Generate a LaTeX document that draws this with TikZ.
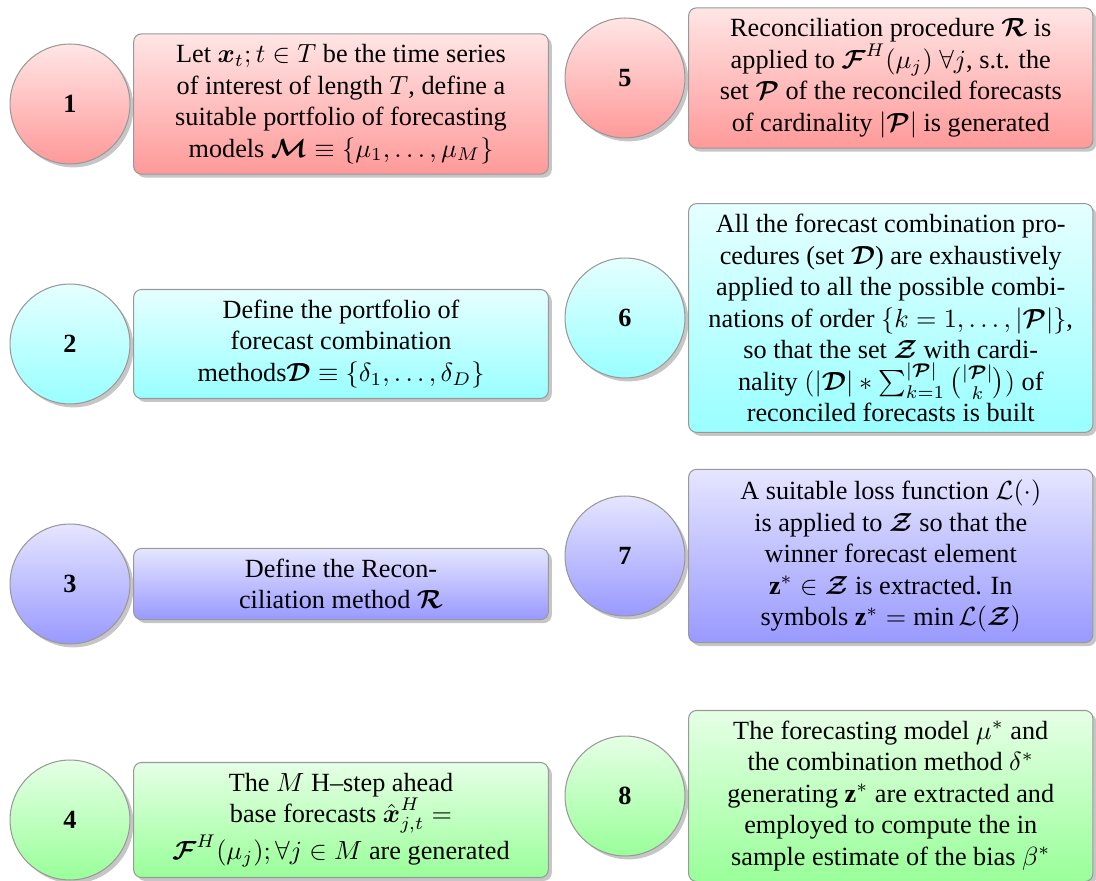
\documentclass[tikz,border=0pt]{standalone}
\usepackage{amsmath}
\usepackage{fontspec}
\setmainfont{Liberation Serif}
\usetikzlibrary{positioning, shadows}
\tikzset{x=0.381pt, y=0.381pt, % one unit is one pixel of the layout
numcirc/.style={ % numbered circle of each step
circle, draw=gray!80, thin,
minimum size=45.7pt, inner sep=0pt,
font=\bfseries,
top color=#1!10, bottom color=#1!40,
drop shadow={opacity=0.45, shadow xshift=1.3pt, shadow yshift=-1.3pt}},
descbox/.style={ % description box beside the circle
rectangle, rounded corners=3pt, draw=gray!80, thin,
text width=150pt, align=flush center,
inner xsep=4pt, inner ysep=4pt,
top color=#1!10, bottom color=#1!40,
drop shadow={opacity=0.45, shadow xshift=1.3pt, shadow yshift=-1.3pt}}}

\begin{document}
\begin{tikzpicture}

    \useasboundingbox (0,0) rectangle (1096,-881);

    % left column
    \node[numcirc=red] (c1) at (70,-104) {1};
    \node[numcirc=cyan] (c2) at (70,-344) {2};
    \node[numcirc=blue] (c3) at (70,-584) {3};
    \node[numcirc=green] (c4) at (70,-820) {4};

    \node[descbox=red, right=1pt of c1] (d1) {Let $\boldsymbol{x}_t; t \in T$ be the time series\\ of interest of length $T$, define a\\ suitable portfolio of forecasting\\ models $\boldsymbol{\mathcal{M}} \equiv \{\mu_1,\ldots,\mu_M\}$};
    \node[descbox=cyan, right=1pt of c2] (d2) {Define the portfolio of\\ forecast combination\\ methods$\boldsymbol{\mathcal{D}} \equiv \{\delta_1,\ldots,\delta_D\}$};
    \node[descbox=blue, right=1pt of c3] (d3) {Define the Recon-\\ ciliation method $\boldsymbol{\mathcal{R}}$};
    \node[descbox=green, right=1pt of c4] (d4) {The $M$ H--step ahead\\ base forecasts $\hat{\boldsymbol{x}}^H_{j,t} =$\\ $\boldsymbol{\mathcal{F}}^H(\mu_j); \forall j \in M$ are generated};

    % right column
    \node[numcirc=red] (c5) at (625,-78) {5};
    \node[numcirc=cyan] (c6) at (625,-318) {6};
    \node[numcirc=blue] (c7) at (625,-556) {7};
    \node[numcirc=green] (c8) at (625,-796) {8};

    \node[descbox=red, text width=146pt, right=1pt of c5] (d5) {Reconciliation procedure $\boldsymbol{\mathcal{R}}$ is\\ applied to $\boldsymbol{\mathcal{F}}^H(\mu_j)\ \forall j$, s.t. the\\ set $\boldsymbol{\mathcal{P}}$ of the reconciled forecasts\\ of cardinality $|\boldsymbol{\mathcal{P}}|$ is generated};
    \node[descbox=cyan, text width=146pt, right=1pt of c6] (d6) {All the forecast combination pro-\\ cedures (set $\boldsymbol{\mathcal{D}}$) are exhaustively\\ applied to all the possible combi-\\ nations of order $\{k=1,\ldots,|\boldsymbol{\mathcal{P}}|\}$,\\ so that the set $\boldsymbol{\mathcal{Z}}$ with cardi-\\ nality $(|\boldsymbol{\mathcal{D}}| * \sum_{k=1}^{|\boldsymbol{\mathcal{P}}|}\binom{|\boldsymbol{\mathcal{P}}|}{k})$ of\\ reconciled forecasts is built};
    \node[descbox=blue, text width=146pt, right=1pt of c7] (d7) {A suitable loss function $\mathcal{L}(\cdot)$\\ is applied to $\boldsymbol{\mathcal{Z}}$ so that the\\ winner forecast element\\ $\mathbf{z}^* \in \boldsymbol{\mathcal{Z}}$ is extracted. In\\ symbols $\mathbf{z}^* = \min \mathcal{L}(\boldsymbol{\mathcal{Z}})$};
    \node[descbox=green, text width=146pt, right=1pt of c8] (d8) {The forecasting model $\mu^*$ and\\ the combination method $\delta^*$\\ generating $\mathbf{z}^*$ are extracted and\\ employed to compute the in\\ sample estimate of the bias $\beta^*$};

\end{tikzpicture}
\end{document}
